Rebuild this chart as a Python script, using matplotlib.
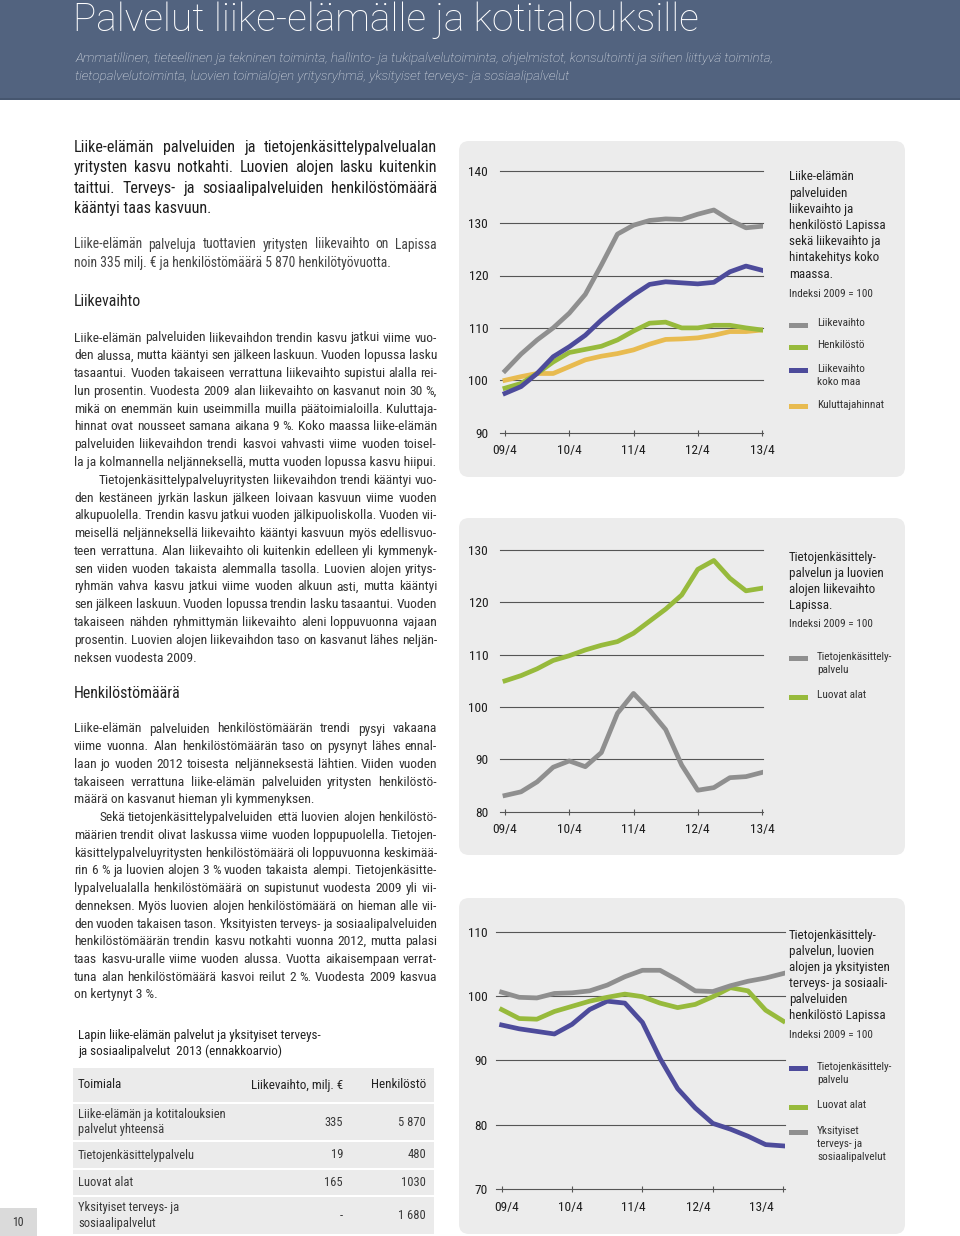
import numpy as np
import matplotlib
matplotlib.use("Agg")
import matplotlib.pyplot as plt
from matplotlib.patches import FancyBboxPatch, Rectangle
from matplotlib.transforms import Affine2D

plt.rcParams['font.family'] = ['Roboto Condensed', 'Archivo Narrow', 'PT Sans Narrow',
                               'Liberation Sans', 'DejaVu Sans']

# quarters 09/4 ... 13/4
quarter = np.arange(17)
tick_labels = ['09/4', '10/4', '11/4', '12/4', '13/4']

# chart 1: Liike-elämän palvelut, indeksi 2009 = 100
liikevaihto = [101.8, 105.0, 107.7, 110.0, 112.8, 116.4, 122.0, 127.9, 129.6,
               130.5, 130.8, 130.7, 131.7, 132.5, 130.6, 129.1, 129.4]
henkilosto = [98.5, 99.4, 101.3, 103.5, 105.3, 105.9, 106.5, 107.7, 109.4,
              110.9, 111.1, 110.0, 110.0, 110.5, 110.5, 110.0, 109.6]
koko_maa = [97.5, 98.8, 101.3, 104.5, 106.4, 108.6, 111.5, 114.0, 116.3,
            118.3, 118.8, 118.6, 118.4, 118.7, 120.7, 121.8, 121.0]
kuluttajahinnat = [100.0, 100.7, 101.3, 101.3, 102.6, 103.9, 104.6, 105.1, 105.8,
                   106.9, 107.8, 107.9, 108.1, 108.6, 109.3, 109.3, 109.6]

# chart 2: liikevaihto
tieto_lv = [83.1, 83.8, 85.7, 88.5, 89.7, 88.6, 91.3, 98.8, 102.6,
            99.4, 95.7, 88.9, 84.1, 84.6, 86.5, 86.7, 87.5]
luovat_lv = [105.0, 106.0, 107.3, 108.9, 109.8, 110.9, 111.8, 112.5, 114.1,
             116.4, 118.7, 121.4, 126.3, 128.0, 124.6, 122.2, 122.7]

# chart 3: henkilöstö
tieto_hl = [95.5, 94.9, 94.5, 94.1, 95.6, 97.9, 99.2, 98.9, 95.9,
            90.3, 85.6, 82.6, 80.2, 79.3, 78.2, 76.9, 76.7]
luovat_hl = [97.9, 96.5, 96.4, 97.6, 98.4, 99.2, 99.8, 100.3, 99.9,
             98.9, 98.2, 98.7, 99.9, 101.3, 100.8, 97.8, 96.1]
yksityiset_hl = [100.6, 99.8, 99.7, 100.4, 100.5, 100.8, 101.7, 103.0, 104.0,
                 104.0, 102.5, 100.8, 100.7, 101.6, 102.3, 102.8, 103.5]

# table
tbl_header = ['Toimiala', 'Liikevaihto, milj. €', 'Henkilöstö']
tbl_toimiala = ['Liike-elämän ja kotitalouksien\npalvelut yhteensä',
                'Tietojenkäsittelypalvelu', 'Luovat alat',
                'Yksityiset terveys- ja\nsosiaalipalvelut']
tbl_liikevaihto = ['335', '19', '165', '-']
tbl_henkilosto = ['5 870', '480', '1030', '1 680']

GRAY = '#8f8f8f'
GREEN = '#97ba3c'
PURPLE = '#4d4b9b'
YELLOW = '#e8bb50'

W, H = 960, 1236
fig = plt.figure(figsize=(W / 100, H / 100), dpi=100)
pxT = Affine2D().scale(1 / W, 1 / H) + fig.transFigure
renderer = fig.canvas.get_renderer()


def put(x, y, s, **kw):
    return fig.text(x, H - y, s, transform=pxT, **kw)


def box(x0, y0, x1, y1, color, rounding=0):
    if rounding:
        p = FancyBboxPatch((x0, H - y1), x1 - x0, y1 - y0,
                           boxstyle='round,pad=0,rounding_size=%d' % rounding,
                           transform=pxT, fc=color, ec='none', zorder=-2)
    else:
        p = Rectangle((x0, H - y1), x1 - x0, y1 - y0, transform=pxT,
                      fc=color, ec='none', zorder=-2)
    fig.add_artist(p)


def paragraph(lines, y0, dy, size, color, weight='normal', x0=74, x1=437, indent=25):
    # justified block, last line of each paragraph left aligned
    y = y0
    for i, line in enumerate(lines):
        last = i == len(lines) - 1 or lines[i + 1].startswith('\t')
        start = x0
        if line.startswith('\t'):
            start += indent
            line = line[1:]
        kw = dict(fontsize=size, color=color, va='baseline', fontweight=weight)
        if last:
            put(start, y, line, **kw)
        else:
            words = line.split(' ')
            ts = [put(start, y, w, **kw) for w in words]
            ws = [t.get_window_extent(renderer).width for t in ts]
            room = x1 - start - 2.0 * (len(words) - 1)
            if sum(ws) > room:
                # font wider than the original: shrink this line to fit
                f = room / sum(ws)
                for t in ts:
                    t.set_fontsize(size * f)
                ws = [w * f for w in ws]
            gap = (x1 - start - sum(ws)) / (len(words) - 1)
            x = start
            for t, w in zip(ts, ws):
                t.set_x(x)
                x += w + gap
        y += dy


# header band
box(0, 0, W, 100, '#52637f')
box(0, 98, W, 100, '#46566f')
put(73, 31, 'Palvelut liike-elämälle ja kotitalouksille', fontsize=28,
    family=['Roboto', 'DejaVu Sans'], fontweight='light', color='white', va='baseline')
sub_kw = dict(fontsize=9.6, style='italic', color='#e6eaf0',
              va='baseline', family=['Roboto', 'DejaVu Sans'], fontweight='light')
put(75, 62, 'Ammatillinen, tieteellinen ja tekninen toiminta, hallinto- ja tukipalvelutoiminta, '
    'ohjelmistot, konsultointi ja siihen liittyvä toiminta,', **sub_kw)
put(75, 80, 'tietopalvelutoiminta, luovien toimialojen yritysryhmä, yksityiset terveys- ja '
    'sosiaalipalvelut', **sub_kw)

# left text column
intro = ['Liike-elämän palveluiden ja tietojenkäsittelypalvelualan',
         'yritysten kasvu notkahti. Luovien alojen lasku kuitenkin',
         'taittui. Terveys- ja sosiaalipalveluiden henkilöstömäärä',
         'kääntyi taas kasvuun.']
intro2 = ['Liike-elämän palveluja tuottavien yritysten liikevaihto on Lapissa',
          'noin 335 milj. € ja henkilöstömäärä 5 870 henkilötyövuotta.']
body1 = ['Liike-elämän palveluiden liikevaihdon trendin kasvu jatkui viime vuo-',
         'den alussa, mutta kääntyi sen jälkeen laskuun. Vuoden lopussa lasku',
         'tasaantui. Vuoden takaiseen verrattuna liikevaihto supistui alalla rei-',
         'lun prosentin. Vuodesta 2009 alan liikevaihto on kasvanut noin 30 %,',
         'mikä on enemmän kuin useimmilla muilla päätoimialoilla. Kuluttaja-',
         'hinnat ovat nousseet samana aikana 9 %. Koko maassa liike-elämän',
         'palveluiden liikevaihdon trendi kasvoi vahvasti viime vuoden toisel-',
         'la ja kolmannella neljänneksellä, mutta vuoden lopussa kasvu hiipui.',
         '\tTietojenkäsittelypalveluyritysten liikevaihdon trendi kääntyi vuo-',
         'den kestäneen jyrkän laskun jälkeen loivaan kasvuun viime vuoden',
         'alkupuolella. Trendin kasvu jatkui vuoden jälkipuoliskolla. Vuoden vii-',
         'meisellä neljänneksellä liikevaihto kääntyi kasvuun myös edellisvuo-',
         'teen verrattuna. Alan liikevaihto oli kuitenkin edelleen yli kymmenyk-',
         'sen viiden vuoden takaista alemmalla tasolla. Luovien alojen yritys-',
         'ryhmän vahva kasvu jatkui viime vuoden alkuun asti, mutta kääntyi',
         'sen jälkeen laskuun. Vuoden lopussa trendin lasku tasaantui. Vuoden',
         'takaiseen nähden ryhmittymän liikevaihto aleni loppuvuonna vajaan',
         'prosentin. Luovien alojen liikevaihdon taso on kasvanut lähes neljän-',
         'neksen vuodesta 2009.']
body2 = ['Liike-elämän palveluiden henkilöstömäärän trendi pysyi vakaana',
         'viime vuonna. Alan henkilöstömäärän taso on pysynyt lähes ennal-',
         'laan jo vuoden 2012 toisesta neljänneksestä lähtien. Viiden vuoden',
         'takaiseen verrattuna liike-elämän palveluiden yritysten henkilöstö-',
         'määrä on kasvanut hieman yli kymmenyksen.',
         '\tSekä tietojenkäsittelypalveluiden että luovien alojen henkilöstö-',
         'määrien trendit olivat laskussa viime vuoden loppupuolella. Tietojen-',
         'käsittelypalveluyritysten henkilöstömäärä oli loppuvuonna keskimää-',
         'rin 6 % ja luovien alojen 3 % vuoden takaista alempi. Tietojenkäsitte-',
         'lypalvelualalla henkilöstömäärä on supistunut vuodesta 2009 yli vii-',
         'denneksen. Myös luovien alojen henkilöstömäärä on hieman alle vii-',
         'den vuoden takaisen tason. Yksityisten terveys- ja sosiaalipalveluiden',
         'henkilöstömäärän trendin kasvu notkahti vuonna 2012, mutta palasi',
         'taas kasvu-uralle viime vuoden alussa. Vuotta aikaisempaan verrat-',
         'tuna alan henkilöstömäärä kasvoi reilut 2 %. Vuodesta 2009 kasvua',
         'on kertynyt 3 %.']

paragraph(intro, 152, 20.3, 11.6, '#1e1e1e')
paragraph(intro2, 248.5, 18, 9.8, '#444444')
put(74, 306.5, 'Liikevaihto', fontsize=11.4, color='#222222', va='baseline')
paragraph(body1, 341.5, 17.78, 9.7, '#333333')
put(74, 697.5, 'Henkilöstömäärä', fontsize=11.4, color='#222222', va='baseline')
paragraph(body2, 732.5, 17.73, 9.7, '#333333')

# table
cap_kw = dict(fontsize=9.4, color='#222222', va='center')
put(78, 1036, 'Lapin liike-elämän palvelut ja yksityiset terveys-', **cap_kw)
put(78, 1051.5, 'ja sosiaalipalvelut  2013 (ennakkoarvio)', **cap_kw)
row_edges = [(1068, 1102), (1104, 1140), (1142, 1168), (1170, 1195), (1197, 1234)]
for y0, y1 in row_edges:
    box(73, y0, 434, y1, '#ebebeb')
hy = sum(row_edges[0]) / 2
put(78, hy, tbl_header[0], **cap_kw)
put(343, hy, tbl_header[1], ha='right', **cap_kw)
put(426, hy, tbl_header[2], ha='right', **cap_kw)
cell_kw = dict(fontsize=9, color='#383838', va='center')
for (y0, y1), name, lv, hl in zip(row_edges[1:], tbl_toimiala, tbl_liikevaihto, tbl_henkilosto):
    cy = (y0 + y1) / 2
    put(78, cy, name, linespacing=1.25, **cell_kw)
    put(343, cy, lv, ha='right', **cell_kw)
    put(426, cy, hl, ha='right', **cell_kw)

# page number
box(0, 1208, 37, 1236, '#dadada')
put(18, 1222, '10', fontsize=8.5, color='#333333', va='center', ha='center')

# chart panels
for y0, y1 in [(141, 477), (518, 855), (898, 1234)]:
    box(459, y0, 905, y1, '#ececec', rounding=10)


def make_axes(l, r, t, b, xlim, ylim, grid, ypad):
    ax = fig.add_axes([l / W, 1 - b / H, (r - l) / W, (b - t) / H])
    ax.set_facecolor('none')
    ax.set_xlim(*xlim)
    ax.set_ylim(*ylim)
    for s in ['top', 'right', 'left']:
        ax.spines[s].set_visible(False)
    ax.spines['bottom'].set_color('#555555')
    ax.spines['bottom'].set_linewidth(0.8)
    for g in grid:
        ax.axhline(g, color='#555555', lw=0.8, zorder=1, clip_on=False)
    ax.set_yticks([ylim[0]] + grid)
    ax.tick_params(axis='y', length=0, pad=ypad, labelsize=9.6, labelcolor='#1e1e1e')
    ax.set_xticks([0, 4, 8, 12, 16])
    ax.tick_params(axis='x', direction='inout', length=4, width=0.8, color='#555555',
                   pad=6, labelsize=9.6, labelcolor='#1e1e1e')
    return ax


def legend(items, x):
    for label, color, y in items:
        box(x, y - 2.5, x + 19, y + 2.5, color)
        put(x + 28, y - 6.5, label, fontsize=8.1, color='#333333', va='top',
            linespacing=1.4)


def title_block(lines, x, y0, dy, idx_y):
    for i, s in enumerate(lines):
        put(x, y0 + i * dy, s, fontsize=9.4, color='#222222', va='center')
    put(x, idx_y, 'Indeksi 2009 = 100', fontsize=8.1, color='#333333', va='center')


# chart 1
ax1 = make_axes(500, 763, 170.7, 432.7, (-0.31, 16.06), (90, 140),
                [100, 110, 120, 130, 140], 8.5)
ax1.set_xticklabels(tick_labels)
ax1.plot(quarter, liikevaihto, color=GRAY, lw=3.4, zorder=3)
ax1.plot(quarter, kuluttajahinnat, color=YELLOW, lw=3.4, zorder=3)
ax1.plot(quarter, henkilosto, color=GREEN, lw=3.4, zorder=3)
ax1.plot(quarter, koko_maa, color=PURPLE, lw=3.4, zorder=4)
title_block(['Liike-elämän', 'palveluiden', 'liikevaihto ja', 'henkilöstö Lapissa',
             'sekä liikevaihto ja', 'hintakehitys koko', 'maassa.'], 789, 177, 16.2, 294)
legend([('Liikevaihto', GRAY, 325), ('Henkilöstö', GREEN, 347),
        ('Liikevaihto\nkoko maa', PURPLE, 370), ('Kuluttajahinnat', YELLOW, 406)], 789)

# chart 2
ax2 = make_axes(500, 763, 550, 811.7, (-0.31, 16.06), (80, 130),
                [90, 100, 110, 120, 130], 8.5)
ax2.set_xticklabels(tick_labels)
ax2.plot(quarter, tieto_lv, color=GRAY, lw=3.4, zorder=3)
ax2.plot(quarter, luovat_lv, color=GREEN, lw=3.4, zorder=3)
title_block(['Tietojenkäsittely-', 'palvelun ja luovien', 'alojen liikevaihto', 'Lapissa.'],
            789, 557, 16.2, 624)
legend([('Tietojenkäsittely-\npalvelu', GRAY, 658), ('Luovat alat', GREEN, 697)], 789)

# chart 3 (labels sit slightly left of the tick marks)
ax3 = make_axes(496, 785, 931.7, 1189, (-0.32, 16.1), (70, 110), [80, 90, 100, 110], 5.8)
ax3.set_xticklabels([])
ax3.set_xticks([0.28, 3.88, 7.46, 11.15, 14.76], minor=True)
ax3.set_xticklabels(tick_labels, minor=True)
ax3.tick_params(axis='x', which='minor', length=0, pad=9, labelsize=9.6, labelcolor='#1e1e1e')
ax3.plot(quarter, tieto_hl, color=PURPLE, lw=3.4, zorder=3)
ax3.plot(quarter, luovat_hl, color=GREEN, lw=3.4, zorder=3)
ax3.plot(quarter, yksityiset_hl, color=GRAY, lw=3.4, zorder=4)
title_block(['Tietojenkäsittely-', 'palvelun, luovien', 'alojen ja yksityisten',
             'terveys- ja sosiaali-', 'palveluiden', 'henkilöstö Lapissa'], 789, 935, 16, 1035)
legend([('Tietojenkäsittely-\npalvelu', PURPLE, 1068), ('Luovat alat', GREEN, 1107),
        ('Yksityiset\nterveys- ja\nsosiaalipalvelut', GRAY, 1132)], 789)

fig.savefig('out.png', dpi=100)
